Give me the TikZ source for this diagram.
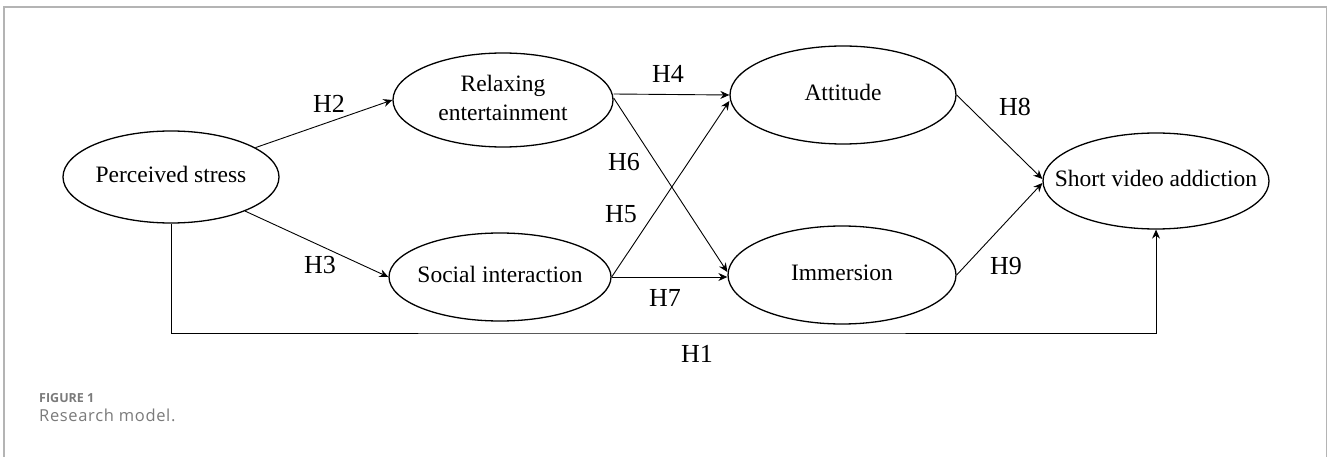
\documentclass[tikz,border=0pt]{standalone}
\usepackage{fontspec}
\setmainfont{Liberation Serif}
\newfontfamily\capfont{Open Sans}
\newfontfamily\capfontwide[LetterSpace=4]{Open Sans}
\usetikzlibrary{shapes.geometric,arrows.meta}
\definecolor{framegray}{HTML}{B4B4B4}
\definecolor{capgray}{HTML}{7A7A7A}
\newcommand{\zw}[1]{\makebox[0pt]{\begin{tabular}{@{}c@{}}#1\end{tabular}}}
\begin{document}
\begin{tikzpicture}[x=1pt,y=-1pt,
  var/.style={draw,ellipse,line width=1.3pt,inner sep=0pt,
    font=\fontsize{23.5}{29}\selectfont},
  hlab/.style={inner sep=0pt,font=\fontsize{26}{30}\selectfont},
  arr/.style={line width=0.9pt,-{Stealth[length=9pt,width=8pt,inset=3pt]}},
  frame/.style={draw=framegray,line width=1.3pt}]
\useasboundingbox (0,0) rectangle (1328,457);
\draw[frame] (4,457) -- (4,7) -- (1326.5,7) -- (1326.5,457);

\node[var,minimum width=216pt,minimum height=92pt] (ps) at (171,177) {\zw{Perceived stress}};
\node[var,minimum width=220pt,minimum height=94pt] (re) at (503,100) {\zw{Relaxing\\entertainment}};
\node[var,minimum width=222pt,minimum height=88pt] (si) at (500,277) {\zw{Social interaction}};
\node[var,minimum width=226pt,minimum height=98pt] (att) at (843,95) {\zw{Attitude}};
\node[var,minimum width=228pt,minimum height=98pt] (imm) at (842,275) {\zw{Immersion}};
\node[var,minimum width=226pt,minimum height=96pt] (sva) at (1156,181) {\zw{Short video addiction}};

\coordinate (h1) at (660,333);
\draw[arr] (ps) -- (re.west);
\draw[arr] (ps) -- (si.west);
\draw[arr] ([yshift=6pt]re.east) -- (att.west);
\draw[arr] ([yshift=2pt]re.east) -- ([yshift=3pt]imm.west);
\draw[arr] (si.east) -- ([yshift=-6pt]att.west);
\draw[arr] (si.east) -- ([yshift=-2pt]imm.west);
\draw[arr] (att.east) -- ([yshift=2pt]sva.west);
\draw[arr] (imm.east) -- ([yshift=-2pt]sva.west);
\draw[arr] (ps.south) |- (h1) -| (sva.south);

\node[hlab] (l2) at (329,104) {H2};
\node[hlab] (l3) at (320,265) {H3};
\node[hlab] (l4) at (668,74) {H4};
\node[hlab] (l6) at (624,162) {H6};
\node[hlab] (l5) at (621,214) {H5};
\node[hlab] (l7) at (665,298) {H7};
\node[hlab] (l8) at (1015,107) {H8};
\node[hlab] (l9) at (1006,266) {H9};
\node[hlab] (l1) at (697,354) {H1};

\node[anchor=base west,inner sep=0pt,text=capgray,font=\capfont\fontseries{sb}\fontsize{12.5}{14}\selectfont] (fig) at (39,402) {FIGURE 1};
\node[anchor=base west,inner sep=0pt,text=capgray,font=\capfontwide\fontsize{16.5}{18}\selectfont] (cap) at (39,421.5) {Research model.};
\end{tikzpicture}
\end{document}
